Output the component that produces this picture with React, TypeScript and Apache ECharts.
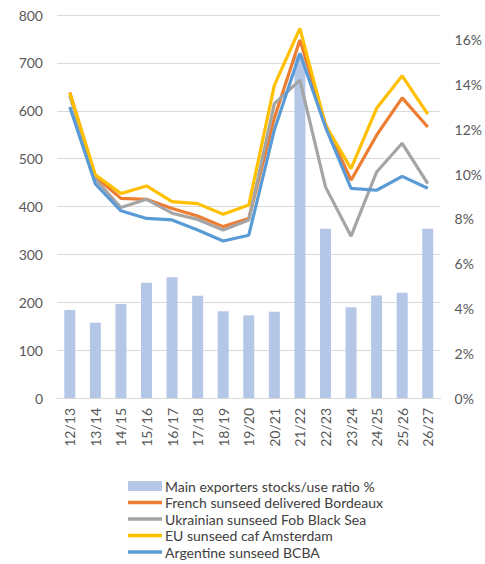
import React, { useEffect, useRef } from "react";
import * as echarts from "echarts";

const categories = ["12/13","13/14","14/15","15/16","16/17","17/18","18/19","19/20","20/21","21/22","22/23","23/24","24/25","25/26","26/27"];
const stocksUseRatio = [3.93, 3.36, 4.2, 5.15, 5.39, 4.57, 3.87, 3.69, 3.85, 15.3, 7.56, 4.05, 4.58, 4.7, 7.56];
const frenchBordeaux = [638, 462, 417, 415, 396, 380, 358, 375, 585, 748, 572, 455, 549, 627, 566];
const ukrainianBlackSea = [632, 457, 398, 415, 386, 373, 351, 372, 615, 664, 441, 338, 472, 532, 448];
const euAmsterdam = [637, 466, 427, 443, 410, 406, 384, 403, 653, 772, 570, 479, 605, 673, 593];
const argentineBCBA = [608, 447, 391, 375, 372, 351, 328, 340, 560, 720, 566, 438, 434, 463, 438];

const FONT = "Lato, 'Open Sans', sans-serif";
const TXT = "#595959";
const LINE_ICON = "path://M0,0 M34,10 M0,3.3 L34,3.3 L34,6.7 L0,6.7 Z";

export default function App() {
  const ref = useRef<HTMLDivElement>(null);
  useEffect(() => {
    if (!ref.current) return;
    const chart = echarts.init(ref.current, undefined, { renderer: "svg" });
    const line = (name: string, data: number[], color: string) => ({
      name,
      type: "line",
      data,
      yAxisIndex: 0,
      symbol: "none",
      showSymbol: false,
      lineStyle: { color, width: 3.2 },
      itemStyle: { color },
    });
    chart.setOption({
      animation: false,
      backgroundColor: "#ffffff",
      textStyle: { fontFamily: FONT },
      grid: { left: 57, right: 42, top: 15, bottom: 166 },
      legend: {
        orient: "vertical",
        left: 123,
        top: 474,
        height: 200,
        itemWidth: 34,
        itemHeight: 10,
        itemGap: 2.5,
        textStyle: { color: "#404040", fontSize: 14, fontFamily: FONT, lineHeight: 14, padding: [0, 0, 0, -2] },
        data: [
          { name: "Main exporters stocks/use ratio %", icon: "rect" },
          { name: "French sunseed delivered Bordeaux", icon: LINE_ICON },
          { name: "Ukrainian sunseed Fob Black Sea", icon: LINE_ICON },
          { name: "EU sunseed caf Amsterdam", icon: LINE_ICON },
          { name: "Argentine sunseed BCBA", icon: LINE_ICON },
        ],
      },
      xAxis: {
        type: "category",
        data: categories,
        boundaryGap: true,
        axisLine: { lineStyle: { color: "#D9D9D9", width: 1 } },
        axisTick: { show: false },
        axisLabel: { rotate: 90, color: TXT, fontSize: 14, fontFamily: FONT, margin: 10, interval: 0 },
      },
      yAxis: [
        {
          type: "value",
          min: 0,
          max: 800,
          interval: 100,
          axisLine: { show: false },
          axisTick: { show: false },
          axisLabel: { color: TXT, fontSize: 14, fontFamily: FONT, margin: 14 },
          splitLine: { lineStyle: { color: "#D9D9D9", width: 1 } },
        },
        {
          type: "value",
          min: 0,
          max: 17.1,
          interval: 2,
          position: "right",
          axisLine: { show: false },
          axisTick: { show: false },
          splitLine: { show: false },
          axisLabel: {
            color: TXT,
            fontSize: 14,
            fontFamily: FONT,
            margin: 14,
            formatter: (v: number) => (Math.abs(v % 2) < 1e-6 ? `${v}%` : ""),
          },
        },
      ],
      series: [
        {
          name: "Main exporters stocks/use ratio %",
          type: "bar",
          yAxisIndex: 1,
          data: stocksUseRatio,
          barWidth: 11,
          itemStyle: { color: "#B4C7E7" },
        },
        line("French sunseed delivered Bordeaux", frenchBordeaux, "#ED7D31"),
        line("Ukrainian sunseed Fob Black Sea", ukrainianBlackSea, "#A5A5A5"),
        line("EU sunseed caf Amsterdam", euAmsterdam, "#FFC000"),
        line("Argentine sunseed BCBA", argentineBCBA, "#5B9BD5"),
      ],
    });
    return () => chart.dispose();
  }, []);
  return <div ref={ref} style={{ position: "fixed", left: 0, top: 0, width: 485, height: 564 }} />;
}
